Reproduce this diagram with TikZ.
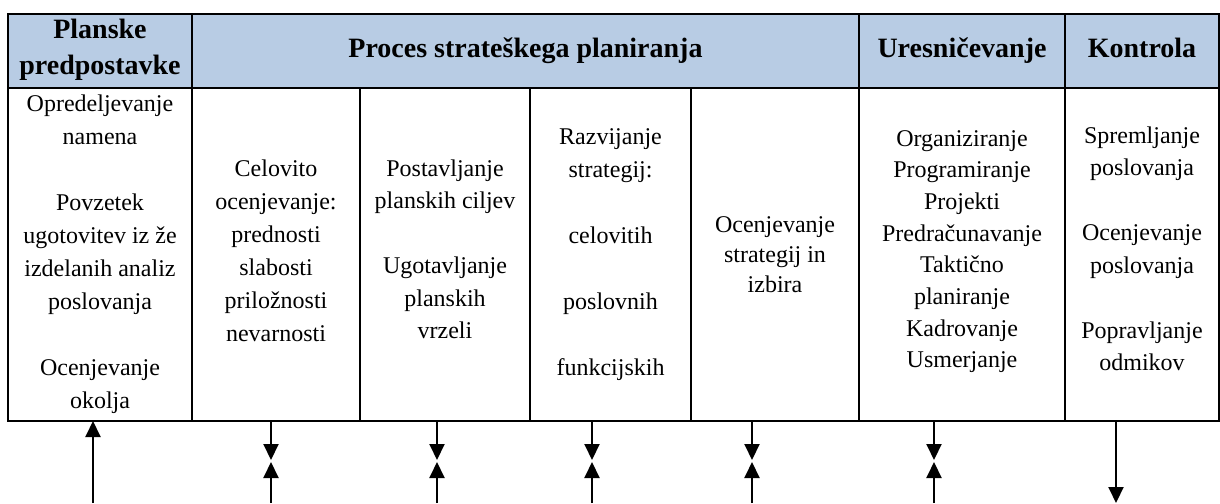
\documentclass[tikz,border=0pt]{standalone}
\usepackage{fontspec}
\setmainfont{Liberation Serif}
\usetikzlibrary{arrows.meta}
\definecolor{headblue}{RGB}{184,204,228}
\newcommand{\celltext}[1]{\begin{tabular}[t]{@{}c@{}}#1\end{tabular}}
\tikzset{
  rule/.style={line width=1pt},
  head/.style={anchor=base, inner sep=0pt, font=\fontsize{14}{17.5}\selectfont\bfseries},
  body/.style={anchor=base, inner sep=0pt, font=\fontsize{12}{#1}\selectfont},
  body/.default=16.5,
  flow/.style={line width=1pt, -{Triangle[length=8pt,width=7.5pt]}}
}
\begin{document}
\begin{tikzpicture}[x=0.5pt,y=-0.5pt]
\useasboundingbox (0,0) rectangle (1220,503);
% table frame
\fill[headblue] (8,14) rectangle (1219,88);
\draw[rule] (8,14) rectangle (1219,421);
\draw[rule] (8,88) -- (1219,88);
\foreach \x in {192,859,1065} \draw[rule] (\x,14) -- (\x,421);
\foreach \x in {360,530,691} \draw[rule] (\x,88) -- (\x,421);
% header row
\node[head] (hplan) at (100,39) {\celltext{Planske\\predpostavke}};
\node[head] (hproc) at (525.5,57) {Proces strateškega planiranja};
\node[head] (hures) at (962,57) {Uresničevanje};
\node[head] (hkon) at (1142,57) {Kontrola};
% body cells
\node[body] (c1) at (100,111) {\celltext{Opredeljevanje\\namena\\ \\Povzetek\\ugotovitev iz že\\izdelanih analiz\\poslovanja\\ \\Ocenjevanje\\okolja}};
\node[body] (c2) at (276,176) {\celltext{Celovito\\ocenjevanje:\\prednosti\\slabosti\\priložnosti\\nevarnosti}};
\node[body=16.25] (c3) at (445,176) {\celltext{Postavljanje\\planskih ciljev\\ \\Ugotavljanje\\planskih\\vrzeli}};
\node[body] (c4) at (610.5,144) {\celltext{Razvijanje\\strategij:\\ \\celovitih\\ \\poslovnih\\ \\funkcijskih}};
\node[body=15] (c5) at (775,232) {\celltext{Ocenjevanje\\strategij in\\izbira}};
\node[body=15.85] (c6) at (962,146) {\celltext{Organiziranje\\Programiranje\\Projekti\\Predračunavanje\\Taktično\\planiranje\\Kadrovanje\\Usmerjanje}};
\node[body=16.25] (c7) at (1142,143) {\celltext{Spremljanje\\poslovanja\\ \\Ocenjevanje\\poslovanja\\ \\Popravljanje\\odmikov}};
% arrows below the table
\coordinate (u1) at (93,421);
\coordinate (v1) at (93,503);
\draw[flow] (v1) -- (u1);
\foreach \x [count=\i] in {271,437,592,752,934} {
  \coordinate (t\i) at (\x,421);
  \coordinate (m\i) at (\x,460);
  \coordinate (n\i) at (\x,462);
  \coordinate (b\i) at (\x,503);
  \draw[flow] (t\i) -- (m\i);
  \draw[flow] (b\i) -- (n\i);
}
\coordinate (u7) at (1116,421);
\coordinate (v7) at (1116,503);
\draw[flow] (u7) -- (v7);
\end{tikzpicture}
\end{document}
